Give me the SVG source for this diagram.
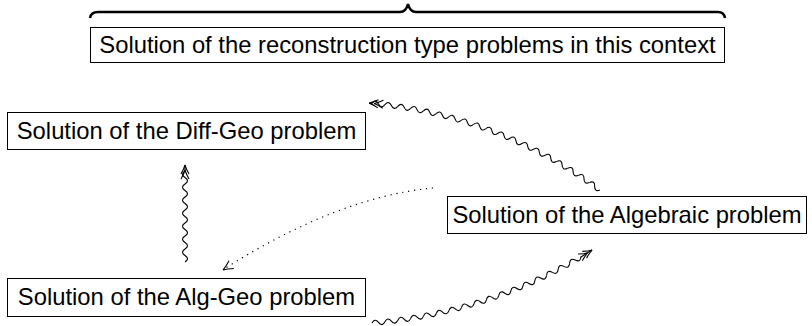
<svg xmlns="http://www.w3.org/2000/svg" width="812" height="326" viewBox="0 0 812 326">
<style>
.box{fill:#fff;stroke:#000;stroke-width:1}
.lbl{font-family:"Liberation Sans",Arial,Helvetica,sans-serif;font-size:23.8px;fill:#000;text-anchor:middle}
.wv{fill:none;stroke:#000;stroke-width:1.1}
.dot{fill:none;stroke:#000;stroke-width:1.2;stroke-dasharray:1.2 4.8}
</style>
<defs>
<path id="wave" class="wv" d="M-6.5,0 Q-3.25,-5 0,0 T6.5,0"/>
<path id="head2" class="wv" d="M-9,-4 Q-3.5,-0.9 0,0 Q-3.5,0.9 -9,4 M-14,-4 Q-8.5,-0.9 -5,0 Q-8.5,0.9 -14,4"/>
<path id="head1" class="wv" d="M-10,-4.5 Q-4,-1 0,0 Q-4,1 -10,4.5"/>
</defs>

<g id="n-top">
<path d="M90,18 Q91,12 98,12 L400,12 Q406,12 408,4 Q410,12 416,12 L718,12 Q724,12 725,18" fill="none" stroke="#000" stroke-width="2.5"/>
<rect class="box" x="90.5" y="27.5" width="634" height="35"/>
<text class="lbl" x="407.5" y="53">Solution of the reconstruction type problems in this context</text>
</g>

<g id="n-diffgeo">
<rect class="box" x="7.5" y="112.5" width="358" height="37"/>
<text class="lbl" x="186.5" y="138.5">Solution of the Diff-Geo problem</text>
</g>

<g id="n-alggeo">
<rect class="box" x="7.5" y="278.5" width="358" height="38"/>
<text class="lbl" x="186.5" y="305">Solution of the Alg-Geo problem</text>
</g>

<g id="n-algebraic">
<rect class="box" x="447.5" y="196.5" width="359" height="37"/>
<text class="lbl" x="627" y="222.5">Solution of the Algebraic problem</text>
</g>

<g id="connectors">
<g id="c-algebraic-diffgeo" transform="translate(332.4 550.3)">
<use href="#wave" transform="rotate(35.77) translate(0 -448.7)"/>
<use href="#wave" transform="rotate(34.11) translate(0 -448.7)"/>
<use href="#wave" transform="rotate(32.45) translate(0 -448.7)"/>
<use href="#wave" transform="rotate(30.79) translate(0 -448.7)"/>
<use href="#wave" transform="rotate(29.13) translate(0 -448.7)"/>
<use href="#wave" transform="rotate(27.47) translate(0 -448.7)"/>
<use href="#wave" transform="rotate(25.81) translate(0 -448.7)"/>
<use href="#wave" transform="rotate(24.15) translate(0 -448.7)"/>
<use href="#wave" transform="rotate(22.49) translate(0 -448.7)"/>
<use href="#wave" transform="rotate(20.83) translate(0 -448.7)"/>
<use href="#wave" transform="rotate(19.17) translate(0 -448.7)"/>
<use href="#wave" transform="rotate(17.51) translate(0 -448.7)"/>
<use href="#wave" transform="rotate(15.85) translate(0 -448.7)"/>
<use href="#wave" transform="rotate(14.19) translate(0 -448.7)"/>
<use href="#wave" transform="rotate(12.53) translate(0 -448.7)"/>
<use href="#wave" transform="rotate(10.87) translate(0 -448.7)"/>
<use href="#wave" transform="rotate(9.21) translate(0 -448.7)"/>
<use href="#wave" transform="rotate(7.55) translate(0 -448.7)"/>
<use href="#wave" transform="rotate(5.89) translate(0 -448.7)"/>
<path class="wv" d="M-3,0 L0,0" transform="rotate(4.7) translate(0 -448.7) rotate(180)"/>
<use href="#head2" transform="rotate(4.7) translate(0 -448.7) rotate(180)"/>
</g>
<g id="c-alggeo-algebraic" transform="translate(332.6 -163.9)">
<use href="#wave" transform="rotate(-5.39) translate(0 488.5)"/>
<use href="#wave" transform="rotate(-6.91) translate(0 488.5)"/>
<use href="#wave" transform="rotate(-8.44) translate(0 488.5)"/>
<use href="#wave" transform="rotate(-9.96) translate(0 488.5)"/>
<use href="#wave" transform="rotate(-11.49) translate(0 488.5)"/>
<use href="#wave" transform="rotate(-13.01) translate(0 488.5)"/>
<use href="#wave" transform="rotate(-14.54) translate(0 488.5)"/>
<use href="#wave" transform="rotate(-16.06) translate(0 488.5)"/>
<use href="#wave" transform="rotate(-17.59) translate(0 488.5)"/>
<use href="#wave" transform="rotate(-19.11) translate(0 488.5)"/>
<use href="#wave" transform="rotate(-20.64) translate(0 488.5)"/>
<use href="#wave" transform="rotate(-22.16) translate(0 488.5)"/>
<use href="#wave" transform="rotate(-23.69) translate(0 488.5)"/>
<use href="#wave" transform="rotate(-25.21) translate(0 488.5)"/>
<use href="#wave" transform="rotate(-26.74) translate(0 488.5)"/>
<use href="#wave" transform="rotate(-28.26) translate(0 488.5)"/>
<use href="#wave" transform="rotate(-29.79) translate(0 488.5)"/>
<path class="wv" d="M-13.5,0 L0,0" transform="rotate(-32.08) translate(0 488.5)"/>
<use href="#head2" transform="rotate(-32.08) translate(0 488.5)"/>
</g>
<g id="c-alggeo-diffgeo">
<path class="wv" d="M185,262 Q190,258.75 185,255.5 T185,249 T185,242.5 T185,236 T185,229.5 T185,223 T185,216.5 T185,210 T185,203.5 T185,197 T185,190.5 T185,184 T185,177.5 T185,171 L185,165"/>
<use href="#head2" transform="translate(185 165) rotate(-90)"/>
</g>
<g id="c-algebraic-alggeo">
<path class="dot" d="M433,188 Q338,197 224,269"/>
<use href="#head1" transform="translate(223 270) rotate(147.6)"/>
</g>
</g>
</svg>
